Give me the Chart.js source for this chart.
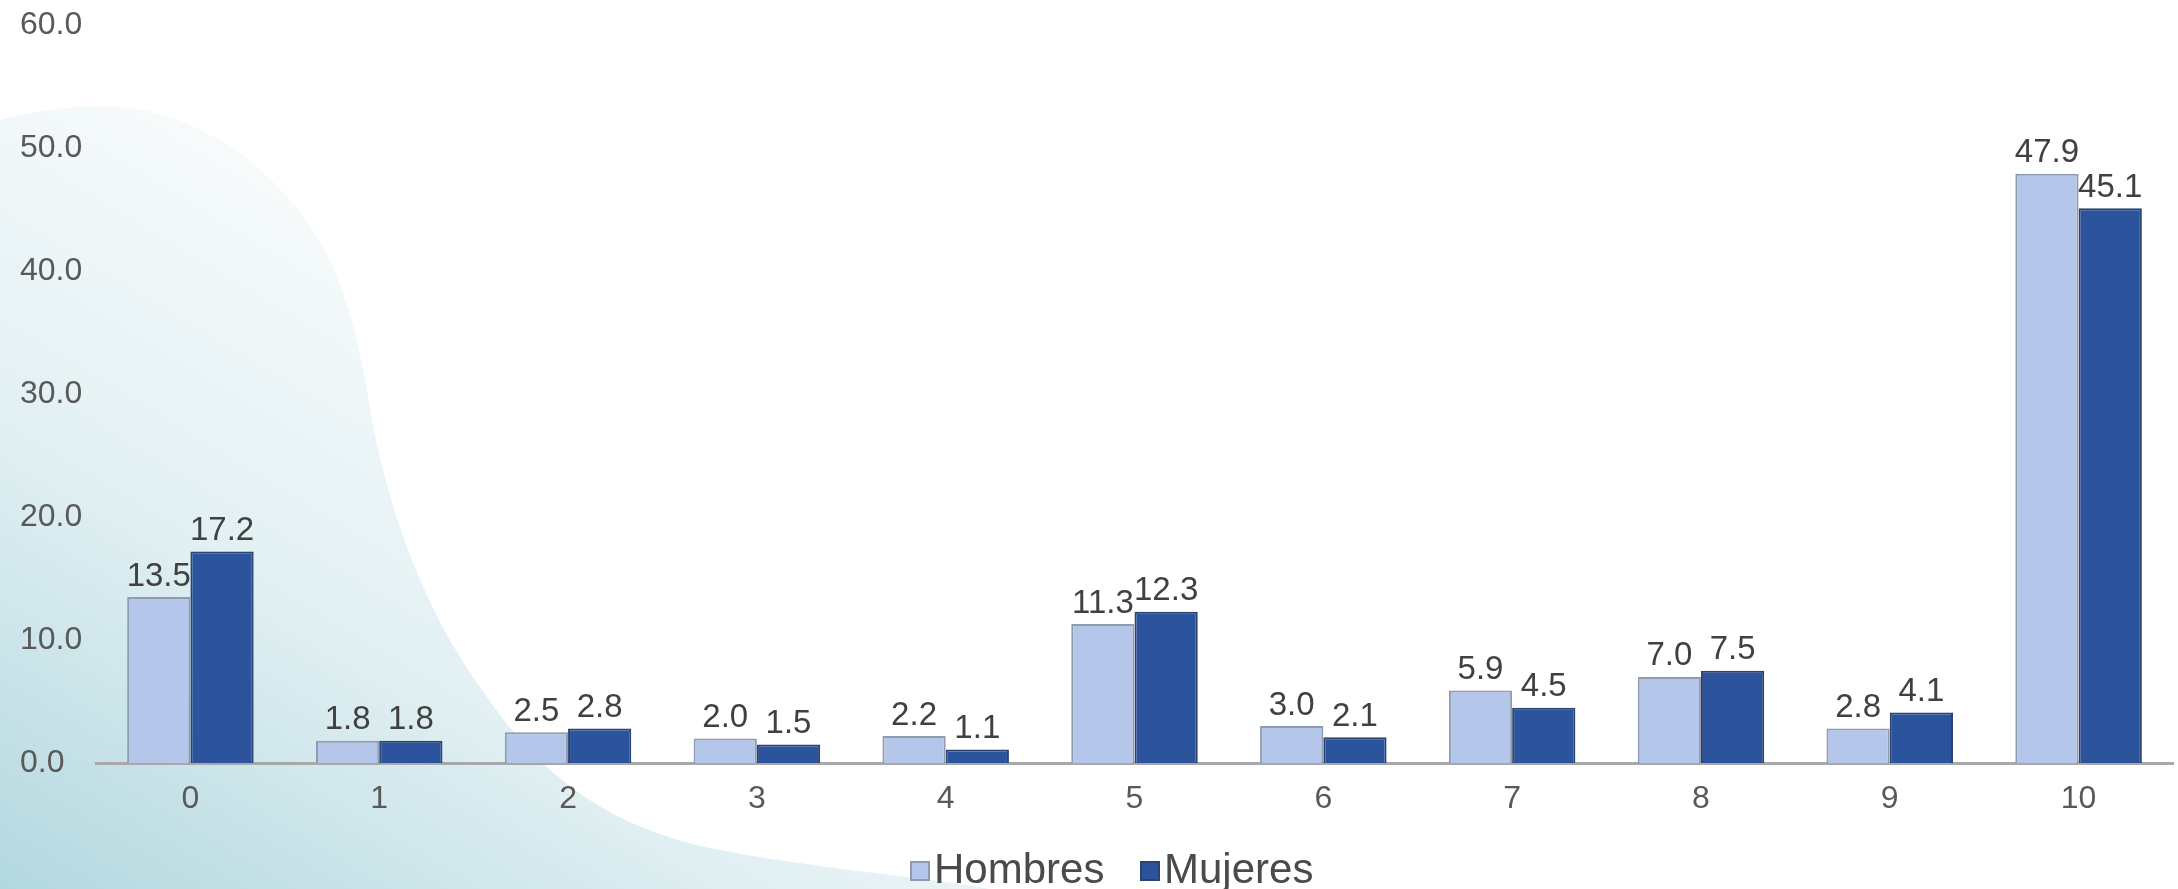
<!DOCTYPE html>
<html>
<head>
<meta charset="utf-8">
<script src="https://cdn.jsdelivr.net/npm/chart.js@4/dist/chart.umd.min.js"></script>
<style>
  html, body { margin: 0; padding: 0; background: #ffffff; }
  .marco { position: relative; width: 2178px; height: 889px; }
  canvas { display: block; }
  .leyenda-item {
    position: absolute;
    top: 844px;
    height: 50px;
    line-height: 50px;
    font-family: "Liberation Sans", Arial, sans-serif;
    font-size: 42px;
    color: #4a4a4a;
    white-space: nowrap;
  }
  .caja {
    display: inline-block;
    width: 16px;
    height: 16px;
    margin-right: 4px;
    vertical-align: 2px;
  }
</style>
</head>
<body>
<div class="marco">
  <canvas id="puntajeChart" width="2178" height="889"></canvas>
  <div class="leyenda-item" style="left:910px"><span class="caja" style="background:#b4c6ea;border:2px solid #8f9bae"></span>Hombres</div>
  <div class="leyenda-item" style="left:1140px"><span class="caja" style="background:#2b549d;border:2px solid #2a4373"></span>Mujeres</div>
</div>
<script>
// datos del gráfico
const categorias = ['0', '1', '2', '3', '4', '5', '6', '7', '8', '9', '10'];
const hombres = [13.5, 1.8, 2.5, 2.0, 2.2, 11.3, 3.0, 5.9, 7.0, 2.8, 47.9];
const mujeres = [17.2, 1.8, 2.8, 1.5, 1.1, 12.3, 2.1, 4.5, 7.5, 4.1, 45.1];
const ejeY = [0, 10, 20, 30, 40, 50, 60];

const fuente = '"Liberation Sans", Arial, sans-serif';

// fondo decorativo (mancha turquesa a la izquierda)
const fondo = {
    id: 'fondo',
    beforeDraw(chart) {
        const ctx = chart.ctx;
        const w = chart.width, h = chart.height;
        ctx.save();
        ctx.fillStyle = '#ffffff';
        ctx.fillRect(0, 0, w, h);
        const g = ctx.createLinearGradient(0, h, 380, 260);
        g.addColorStop(0, '#b2d8df');
        g.addColorStop(0.55, '#e2f0f3');
        g.addColorStop(1, '#f6fafb');
        ctx.fillStyle = g;
        ctx.beginPath();
        ctx.moveTo(0, 120);
        ctx.bezierCurveTo(45, 108, 90, 104, 122, 107);
        ctx.bezierCurveTo(200, 114, 280, 170, 322, 245);
        ctx.bezierCurveTo(358, 312, 365, 385, 376, 440);
        ctx.bezierCurveTo(398, 540, 432, 620, 482, 690);
        ctx.bezierCurveTo(530, 760, 590, 822, 710, 848);
        ctx.bezierCurveTo(810, 868, 900, 874, 990, h);
        ctx.lineTo(0, h);
        ctx.closePath();
        ctx.fill();
        ctx.restore();
    }
};

// etiquetas de valor sobre cada barra
const etiquetas = {
    id: 'etiquetas',
    afterDatasetsDraw(chart) {
        const ctx = chart.ctx;
        ctx.save();
        ctx.font = '33px ' + fuente;
        ctx.fillStyle = '#404040';
        ctx.textAlign = 'center';
        ctx.textBaseline = 'bottom';
        chart.data.datasets.forEach((ds, i) => {
            chart.getDatasetMeta(i).data.forEach((bar, j) => {
                ctx.fillText(ds.data[j].toFixed(1), bar.x, bar.y - 4);
            });
        });
        ctx.restore();
    }
};

new Chart(document.getElementById('puntajeChart'), {
    type: 'bar',
    data: {
        labels: categorias,
        datasets: [
            {
                label: 'Hombres',
                data: hombres,
                backgroundColor: '#b4c6ea',
                borderColor: '#8f9bae',
                borderWidth: 2
            },
            {
                label: 'Mujeres',
                data: mujeres,
                backgroundColor: '#2b549d',
                borderColor: '#2a4373',
                borderWidth: 2
            }
        ]
    },
    options: {
        responsive: false,
        animation: false,
        devicePixelRatio: 1,
        layout: {
            padding: { top: 25, left: 20, right: 5, bottom: 50 }
        },
        datasets: {
            bar: { categoryPercentage: 0.67, barPercentage: 1.0 }
        },
        plugins: {
            tooltip: { enabled: false },
            legend: { display: false }
        },
        scales: {
            x: {
                grid: { display: false, drawTicks: false },
                border: { display: true, color: '#a6a8aa', width: 3 },
                ticks: {
                    color: '#595959',
                    padding: 17,
                    font: { family: fuente, size: 32 }
                },
                afterFit(scale) { scale.height = 76; }
            },
            y: {
                min: ejeY[0],
                max: ejeY[ejeY.length - 1],
                afterBuildTicks(scale) {
                    scale.ticks = ejeY.map(v => ({ value: v }));
                },
                grid: { display: false, drawTicks: false },
                border: { display: false },
                ticks: {
                    crossAlign: 'far',
                    color: '#595959',
                    font: { family: fuente, size: 32 },
                    callback: v => Number(v).toFixed(1)
                },
                afterFit(scale) { scale.width = 76; }
            }
        }
    },
    plugins: [fondo, etiquetas]
});
</script>
</body>
</html>
